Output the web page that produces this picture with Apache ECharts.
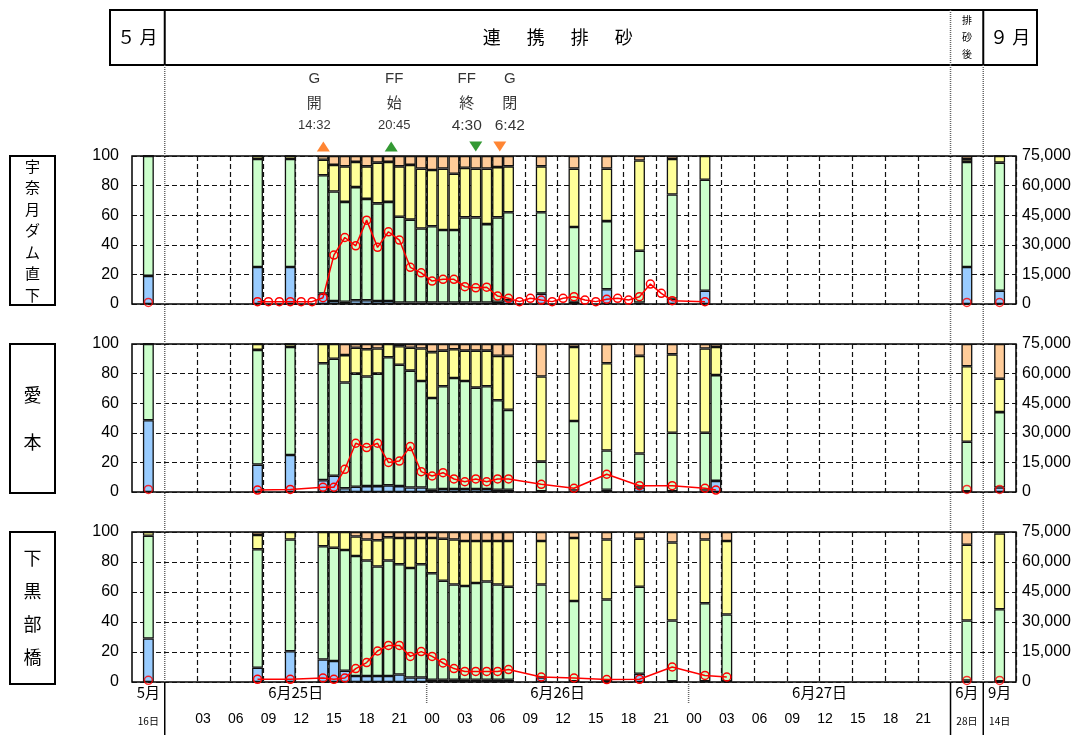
<!DOCTYPE html>
<html>
<head>
<meta charset="utf-8">
<script src="https://cdn.jsdelivr.net/npm/echarts@6/dist/echarts.min.js"></script>
<style>
  html, body { margin: 0; padding: 0; background: #fff; }
  #chart { width: 1072px; height: 735px; }
</style>
</head>
<body>
<div id="chart"></div>
<script>
// ---- time slots: single-day samples get a 3-slot block, the sediment flushing days are hourly ----
const spotDays = ['5/16', '6/28', '9/14'];
const hourlyDays = ['6/25', '6/26', '6/27'];

// ---- stations ----
const stations = ['宇奈月ダム直下', '愛本', '下黒部橋'];

// ---- grain size composition (%) : fine / fine sand / sand / coarse ----
const s1Times = ['5/16','6/25 08','6/25 11','6/25 14','6/25 15','6/25 16','6/25 17','6/25 18','6/25 19','6/25 20','6/25 21','6/25 22','6/25 23','6/26 00','6/26 01','6/26 02','6/26 03','6/26 04','6/26 05','6/26 06','6/26 07','6/26 10','6/26 13','6/26 16','6/26 19','6/26 22','6/27 01','6/28','9/14'];
const s1Fine   = [19,25,25,7,2,1.5,2.5,2.5,2,2,1,1,1,1,1,1,1,1,1,1.5,2.5,7,1.5,10,1,3.5,9,25,9];
const s1Sand1  = [81,73,73,80,74,67.5,76.5,68.5,66,67,58,56,50,51.5,49,49,57.5,57.5,53,57,59.5,55,50.5,46,35,70.5,75,71,86.5];
const s1Sand2  = [0,2,2,10.5,18,24,17,22,27.5,27,34,37,40.5,38,41.5,38,33.5,33,37.5,34,31,31,39.5,35.5,61,24,16,2,4.5];
const s1Coarse = [0,0,0,2.5,6,7,4,7,4.5,4,7,6,8.5,9.5,8.5,12,8,8.5,8.5,7.5,7,7,8.5,8.5,3,2,0,2,0];

const s2Times = ['5/16','6/25 08','6/25 11','6/25 14','6/25 15','6/25 16','6/25 17','6/25 18','6/25 19','6/25 20','6/25 21','6/25 22','6/25 23','6/26 00','6/26 01','6/26 02','6/26 03','6/26 04','6/26 05','6/26 06','6/26 07','6/26 10','6/26 13','6/26 16','6/26 19','6/26 22','6/27 01','6/27 02','6/28','9/14'];
const s2Fine   = [48.5,18.5,25,8,11,2.5,3.5,4,4,4.5,4,3,3,1.5,2,2,2,2,2,1.5,1.5,0.5,1,1.5,3,0.5,1,7.5,0.5,3];
const s2Sand1  = [51.5,77.5,73,79,79,71.5,76.5,74,76,86.5,82,79,72,62,69.5,75,73,68.5,69.5,60.5,54,20,47,26.5,23,39.5,39,71.5,33.5,51];
const s2Sand2  = [0,4,2,13,10,18.5,17.5,18.5,17,9,12.5,15.5,22,31,24,19.5,20.5,25,24,30,36.5,57.5,50,59,66,53,57,19,51,22.5];
const s2Coarse = [0,0,0,0,0,7.5,2.5,3.5,3,0,1.5,2.5,3,5.5,4.5,3.5,4.5,4.5,4.5,8,8,22,2,13,8,7,3,2,15,23.5];

const s3Times = ['5/16','6/25 08','6/25 11','6/25 14','6/25 15','6/25 16','6/25 17','6/25 18','6/25 19','6/25 20','6/25 21','6/25 22','6/25 23','6/26 00','6/26 01','6/26 02','6/26 03','6/26 04','6/26 05','6/26 06','6/26 07','6/26 10','6/26 13','6/26 16','6/26 19','6/26 22','6/27 01','6/27 03','6/28','9/14'];
const s3Fine   = [29,9.5,20.5,15,14,7.5,4,4,4,4,5,3,3,1.5,1.5,1.5,1.5,1.5,1.5,1.5,1.5,3,0.5,0.5,5.5,0.5,0.5,0.5,1,0.5];
const s3Sand1  = [68.5,79,74.5,75.5,75.5,80.5,80,77,73,77,73.5,73,75.5,71,66,63.5,62.5,64.5,65.5,63.5,62,62,53.5,54.5,58,40.5,52,44.5,40,48];
const s3Sand2  = [2.5,9.5,5,9.5,10.5,12,13,14,17.5,15.5,17.5,20,17.5,23.5,28,30,30,28,27,29,30.5,29,42,40,32,52,42.5,49,50.5,50.5];
const s3Coarse = [0,2,0,0,0,0,3,5,5.5,3.5,4,4,4,4,4.5,5,6,6,6,6,6,6,4,5,4.5,7,5,6,8.5,1];

// ---- sediment load (right axis), hourly from 6/25 08 to 6/27 03, null = not measured ----
const loadStart = '6/25 08';
const s1Load = [1200,1200,1200,1200,1200,1200,3200,24800,33700,29500,42500,28700,36600,32400,18600,15800,11600,12500,12500,8800,8200,8500,4000,2900,1200,2900,2000,1200,2900,3700,2000,1200,2400,2900,2000,3700,10100,5400,1700,null,null,1200,null,null];
const s2Load = [1000,null,null,1300,null,null,2400,2400,11500,24700,22500,24700,15000,15700,23000,10300,8100,9800,6600,5200,6600,5200,6600,6600,null,null,3900,null,null,1900,null,null,9000,null,null,3200,null,null,3200,null,null,1900,1000,null];
const s3Load = [1350,null,null,1350,null,null,2000,1350,2000,6700,9700,15500,18300,18300,12800,15200,12800,9500,6700,5300,5300,5300,5300,6200,null,null,2500,null,null,2000,null,null,1200,null,null,1350,null,null,7500,null,null,3300,null,2500];
// load on the single sample days (5/16, 6/28, 9/14)
const s1SpotLoad = [800, 800, 800];
const s2SpotLoad = [1300, 1300, 1300];
const s3SpotLoad = [850, 800, 800];

// ---- gate / flushing flow events ----
const eventCodes   = ['G', 'FF', 'FF', 'G'];
const eventActions = ['開', '始', '終', '閉'];
const eventTimes   = ['6/25 14:32', '6/25 20:45', '6/26 4:30', '6/26 6:42'];
const eventDirs    = ['up', 'up', 'down', 'down'];

// ---- header texts ----
const headerLeft = '５ 月';
const headerMain = ['連', '携', '排', '砂'];
const headerAfter = '排\n砂\n後';
const headerRight = '９ 月';

// ---------------------------------------------------------------
const NUM = '"Liberation Sans", Arial, sans-serif';
const JP = '"Noto Sans CJK JP", sans-serif';
const pad = h => (h < 10 ? '0' : '') + h;

const categories = [];
function addSpot(d) { categories.push(d + ' a', d, d + ' b'); }
addSpot(spotDays[0]);
hourlyDays.forEach(d => { for (let h = 0; h < 24; h++) categories.push(d + ' ' + pad(h)); });
addSpot(spotDays[1]);
addSpot(spotDays[2]);
const N = categories.length;

function fullSeries(times, values) {
  const arr = new Array(N).fill(null);
  times.forEach((t, k) => { arr[categories.indexOf(t)] = values[k]; });
  return arr;
}
function hourlySeries(start, values) {
  const arr = new Array(N).fill(null);
  const i0 = categories.indexOf(start);
  values.forEach((v, k) => { arr[i0 + k] = v; });
  return arr;
}

const comps = [
  [s1Times, s1Fine, s1Sand1, s1Sand2, s1Coarse],
  [s2Times, s2Fine, s2Sand1, s2Sand2, s2Coarse],
  [s3Times, s3Fine, s3Sand1, s3Sand2, s3Coarse]
];
const loads = [s1Load, s2Load, s3Load];
const spotLoads = [s1SpotLoad, s2SpotLoad, s3SpotLoad];
const compColors = ['#99CCFF', '#CCFFCC', '#FFFF99', '#FFCC99'];

const gridTops = [156, 344, 532];
const gridHeights = [148, 148, 150];

const grids = gridTops.map((t, i) => ({
  left: 132, width: 884, top: t, height: gridHeights[i],
  show: true, borderColor: '#000', borderWidth: 1.5,
  backgroundColor: 'transparent', outerBoundsMode: 'none', containLabel: false
}));

const firstHour = categories.indexOf(hourlyDays[0] + ' 00');
const lastHourEnd = categories.indexOf(hourlyDays[2] + ' 23') + 1;
const gridDash = { color: '#111', type: [5, 3], width: 1.2 };

const xAxes = grids.map((g, i) => ({
  type: 'category', gridIndex: i, data: categories, boundaryGap: true,
  axisLine: { show: false }, axisTick: { show: false }, axisLabel: { show: false },
  splitLine: {
    show: true,
    interval: idx => idx > firstHour && idx < lastHourEnd && (idx - firstHour) % 3 === 0,
    lineStyle: gridDash
  }
}));
// slot scale (continuous) used for event markers and label rows
const SLOT = xAxes.length;
xAxes.push({ type: 'value', gridIndex: 0, min: 0, max: N, show: false });

// label rows under the last panel
const row1 = {}, row2 = {};
const key = v => Math.round(v * 2) / 2;
spotDays.forEach(d => {
  const c = categories.indexOf(d) + 0.5;
  const m = d.split('/');
  row1[key(c)] = m[0] + '月';
  row2[key(c)] = '{s|' + m[1] + '日}';
});
hourlyDays.forEach(d => {
  const m = d.split('/');
  row1[key(categories.indexOf(d + ' 12'))] = m[0] + '月' + m[1] + '日';
  for (let h = 0; h < 24; h += 3) {
    const idx = categories.indexOf(d + ' ' + pad(h));
    if (idx === firstHour) continue;
    row2[key(idx + 0.5)] = pad(h);
  }
});
const labelRowAxis = (offset, map, font, family) => ({
  type: 'value', gridIndex: 2, min: 0, max: N, interval: 0.5, position: 'bottom', offset: offset,
  axisLine: { show: false }, axisTick: { show: false }, splitLine: { show: false },
  axisLabel: {
    show: true, margin: 3, color: '#000', fontSize: font, fontFamily: family,
    showMinLabel: true, showMaxLabel: true, hideOverlap: false,
    formatter: v => map[key(v)] || '',
    rich: { s: { fontSize: 10, fontFamily: JP, color: '#000', padding: [4, 0, 0, 0] } }
  }
});
xAxes.push(labelRowAxis(0, row1, 15, JP));
xAxes.push(labelRowAxis(27, row2, 14, NUM));

const yAxes = [];
grids.forEach((g, i) => {
  yAxes.push({
    type: 'value', gridIndex: i, min: 0, max: 100, interval: 20, position: 'left',
    axisLine: { show: false }, axisTick: { show: false },
    axisLabel: { color: '#000', fontSize: 16, fontFamily: NUM, margin: 13 },
    splitLine: { show: true, lineStyle: gridDash }
  });
  yAxes.push({
    type: 'value', gridIndex: i, min: 0, max: 75000, interval: 15000, position: 'right',
    axisLine: { show: false }, axisTick: { show: false },
    axisLabel: { color: '#000', fontSize: 16, fontFamily: NUM, margin: 6,
      formatter: v => v.toLocaleString('en-US') },
    splitLine: { show: false }
  });
});

const series = [];
comps.forEach((c, i) => {
  for (let k = 0; k < 4; k++) {
    series.push({
      type: 'bar', xAxisIndex: i, yAxisIndex: 2 * i, stack: 'grain' + i,
      barCategoryGap: '0%', barGap: '0%',
      data: fullSeries(c[0], c[k + 1]),
      itemStyle: { color: compColors[k], borderColor: '#111', borderWidth: 1.3 },
      silent: true
    });
  }
  series.push({
    type: 'line', xAxisIndex: i, yAxisIndex: 2 * i + 1, z: 5,
    data: hourlySeries(loadStart, loads[i]), connectNulls: true,
    symbol: 'circle', symbolSize: 8, showSymbol: true, showAllSymbol: true,
    lineStyle: { color: '#FF0000', width: 1.5 },
    itemStyle: { color: 'rgba(255,255,255,0)', borderColor: '#FF0000', borderWidth: 1.5 },
    silent: true
  });
  series.push({
    type: 'scatter', xAxisIndex: i, yAxisIndex: 2 * i + 1, z: 5,
    data: fullSeries(spotDays, spotLoads[i]),
    symbol: 'circle', symbolSize: 8,
    itemStyle: { color: 'rgba(255,255,255,0)', borderColor: '#FF0000', borderWidth: 1.5 },
    silent: true
  });
});

// event markers above the first panel
const eventColors = { G: '#FF6600', FF: '#008000' };
const eventLabelShift = [-9, 3, -9, 10];
const eventData = eventTimes.map((t, k) => {
  const [d, hm] = t.split(' ');
  const [h, m] = hm.split(':').map(Number);
  const x = categories.indexOf(d + ' ' + pad(h)) + m / 60;
  const timeStyle = k < 2 ? 's' : 'm';
  return {
    value: [x, 106.5],
    symbolRotate: eventDirs[k] === 'down' ? 180 : 0,
    itemStyle: { color: eventColors[eventCodes[k]] },
    label: {
      offset: [eventLabelShift[k], 0],
      formatter: '{k|' + eventCodes[k] + '}\n{j|' + eventActions[k] + '}\n{' + timeStyle + '|' + hm + '}'
    }
  };
});
series.push({
  type: 'scatter', xAxisIndex: SLOT, yAxisIndex: 0, clip: false, z: 6,
  symbol: 'triangle', symbolSize: [13, 10],
  data: eventData, silent: true,
  label: {
    show: true, position: 'top', distance: 5, align: 'center',
    rich: {
      k: { fontFamily: NUM, fontSize: 15, lineHeight: 24, color: '#000' },
      j: { fontFamily: JP, fontSize: 15, lineHeight: 24, color: '#000' },
      s: { fontFamily: NUM, fontSize: 13, lineHeight: 22, color: '#000' },
      m: { fontFamily: NUM, fontSize: 15.5, lineHeight: 22, color: '#000' }
    }
  }
});

const chart = echarts.init(document.getElementById('chart'));
chart.setOption({
  animation: false,
  backgroundColor: '#fff',
  grid: grids,
  xAxis: xAxes,
  yAxis: yAxes,
  series: series
});

// ---- frames, header and dividers placed from the slot scale ----
const bx = v => chart.convertToPixel({ xAxisIndex: SLOT }, v);
const gy = (i, v) => chart.convertToPixel({ yAxisIndex: 2 * i }, v);
const plotBottom = gy(2, 0);
const headTop = 10, headBottom = 65, headLeft = 110, headRight = 1037;
const xDay0 = bx(firstHour), xAfter = bx(lastHourEnd), xSep = bx(categories.indexOf(spotDays[2] + ' a'));
const xDay2 = bx(categories.indexOf(hourlyDays[1] + ' 00'));
const xDay3 = bx(categories.indexOf(hourlyDays[2] + ' 00'));

const g = [];
const line = (x1, y1, x2, y2, style) => g.push({ type: 'line', z: 20, shape: { x1, y1, x2, y2 }, style });
const solid = { stroke: '#000', lineWidth: 1.5 };
const dotted = { stroke: '#666', lineWidth: 1.5, lineDash: [1, 1] };

g.push({ type: 'rect', z: 20, shape: { x: headLeft, y: headTop, width: headRight - headLeft, height: headBottom - headTop },
  style: { stroke: '#000', lineWidth: 2, fill: 'none' } });
line(xDay0, headTop, xDay0, headBottom, { stroke: '#000', lineWidth: 2 });
line(xSep, headTop, xSep, headBottom, { stroke: '#000', lineWidth: 2 });
line(xAfter, headTop, xAfter, headBottom, dotted);

const text = (x, y, t, size, extra) => g.push({ type: 'text', z: 21, x, y,
  style: Object.assign({ text: t, fontSize: size, fontFamily: JP, fill: '#000', align: 'center', verticalAlign: 'middle' }, extra || {}) });
const headMid = (headTop + headBottom) / 2;
text((headLeft + xDay0) / 2, headMid, headerLeft, 18);
const mainC = (xDay0 + xAfter) / 2;
headerMain.forEach((ch, k) => text(mainC + (k - 1.5) * 44, headMid, ch, 18));
text((xAfter + xSep) / 2, headMid, headerAfter, 10, { lineHeight: 17 });
text((xSep + headRight) / 2, headMid, headerRight, 18);

// dotted dividers through the panels
[xDay0, xAfter, xSep].forEach(x => line(x, headBottom, x, plotBottom, dotted));
// dividers in the time label area
[xDay0, xAfter, xSep].forEach(x => line(x, plotBottom, x, 735, solid));
[xDay2, xDay3].forEach(x => line(x, plotBottom, x, plotBottom + 22, dotted));

// station name boxes
const stFont = [15, 18, 18], stLine = [21.5, 47, 33];
stations.forEach((s, i) => {
  const t = gy(i, 100), b = gy(i, 0) + (i === 2 ? 2 : 1);
  g.push({ type: 'rect', z: 20, shape: { x: 10, y: t, width: 45, height: b - t },
    style: { stroke: '#000', lineWidth: 2, fill: 'none' } });
  text(32.5, (t + b) / 2, s.split('').join('\n'), stFont[i], { lineHeight: stLine[i] });
});

chart.setOption({ graphic: g });
</script>
</body>
</html>
